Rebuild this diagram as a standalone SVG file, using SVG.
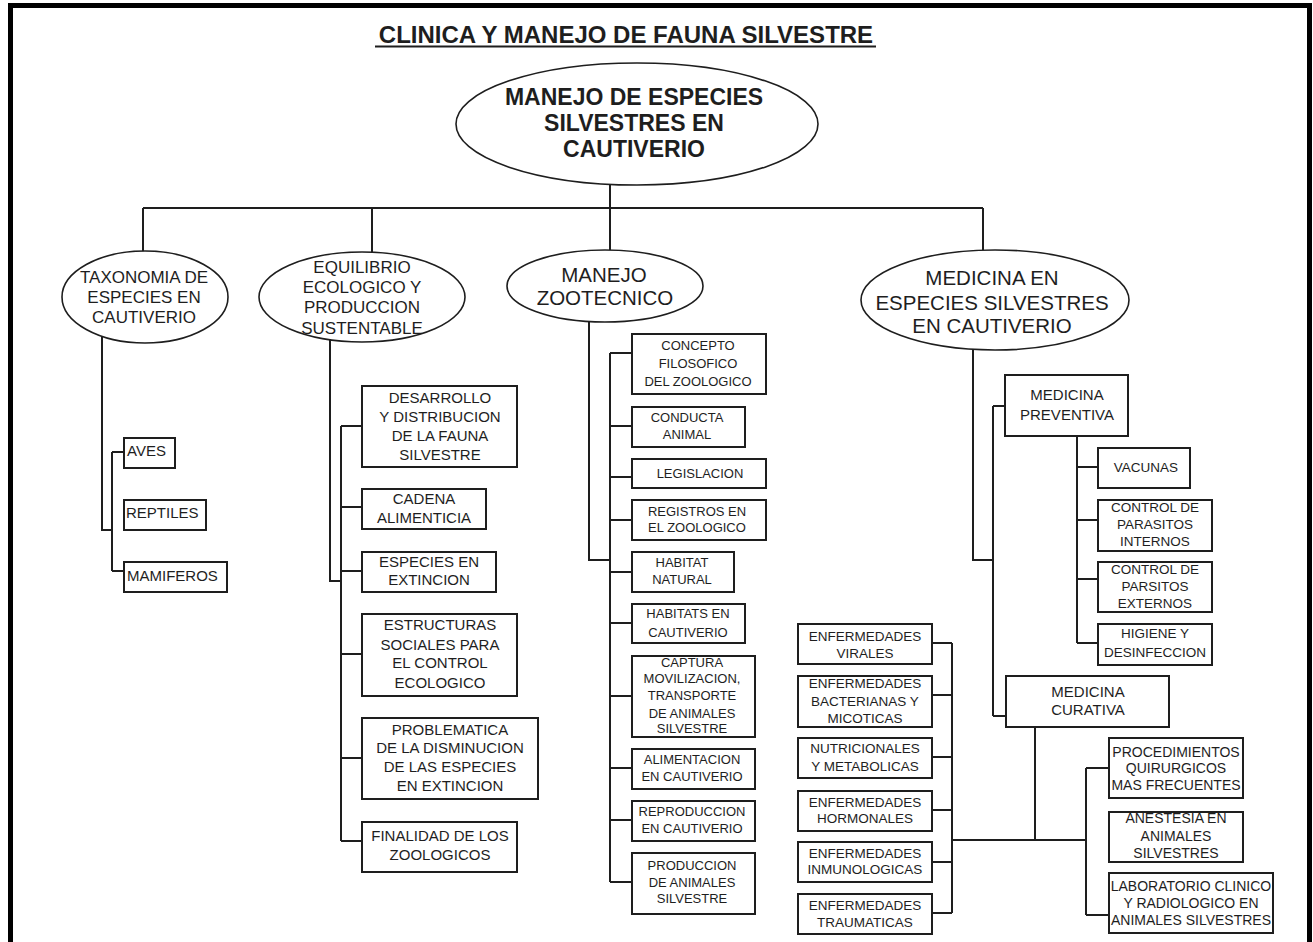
<svg xmlns="http://www.w3.org/2000/svg" width="1313" height="942" viewBox="0 0 1313 942">
<style>
text{font-family:"Liberation Sans",Arial,Helvetica,sans-serif;fill:#1e1e1e;text-anchor:middle}
.title{font-size:24px;font-weight:bold}
.root{font-size:23px;font-weight:bold}
.l1a{font-size:17px}
.l1b{font-size:20.5px}
.t15{font-size:15px}
.t14{font-size:14px}
.t135{font-size:13.5px}
.t13{font-size:13px}
.start{text-anchor:start}
.box{fill:#fff;stroke:#1e1e1e;stroke-width:2}
.ell{fill:#fff;stroke:#1e1e1e;stroke-width:1.6}
.conn path{fill:none;stroke:#1e1e1e;stroke-width:2}
</style>
<rect x="0" y="0" width="1313" height="942" fill="#fff"/>
<rect x="10.5" y="5.5" width="1299" height="1000" fill="none" stroke="#000" stroke-width="5"/>
<g id="title">
<text class="title" x="626" y="43">CLINICA Y MANEJO DE FAUNA SILVESTRE</text>
<line x1="375" y1="46.5" x2="876" y2="46.5" stroke="#1e1e1e" stroke-width="1.8"/>
</g>
<g class="conn" id="connectors">
<path d="M610,184 V250 M143,208 H983 M143,208 V252 M372,208 V252 M983,208 V250"/>
<path d="M102,336 V530 H112 M112,452 V571 M112,452 H124 M112,571 H124"/>
<path d="M330,340 V581 H341 M341,426 V841 M341,426 H362 M341,507 H362 M341,571 H362 M341,654 H362 M341,758 H362 M341,841 H362"/>
<path d="M589,322 V560 H610 M610,353 V882 M610,353 H632 M610,426 H632 M610,477 H632 M610,520 H632 M610,572 H632 M610,623 H632 M610,696 H632 M610,768 H632 M610,820 H632 M610,882 H632"/>
<path d="M973,349 V560 H993 M993,406 V716 M993,406 H1005 M993,716 H1006"/>
<path d="M1077,436 V643 M1077,467 H1098 M1077,520 H1098 M1077,579 H1098 M1077,643 H1098"/>
<path d="M1035,727 V840 M952,840 H1086 M952,643 V913 M932,643 H952 M932,695 H952 M932,757 H952 M932,810 H952 M932,862 H952 M932,913 H952 M1086,768 V915 M1086,768 H1109 M1086,915 H1109"/>
</g>
<g id="root">
<ellipse class="ell" cx="637" cy="124" rx="181" ry="61"/>
<text class="root" x="634" y="105">MANEJO DE ESPECIES</text>
<text class="root" x="634" y="131">SILVESTRES EN</text>
<text class="root" x="634" y="157">CAUTIVERIO</text>
</g>
<g id="taxonomia">
<ellipse class="ell" cx="145" cy="297" rx="83" ry="46"/>
<text class="l1a" x="144" y="283">TAXONOMIA DE</text>
<text class="l1a" x="144" y="303">ESPECIES EN</text>
<text class="l1a" x="144" y="323">CAUTIVERIO</text>
</g>
<g id="equilibrio">
<ellipse class="ell" cx="362" cy="297" rx="103" ry="45"/>
<text class="l1a" x="362" y="273">EQUILIBRIO</text>
<text class="l1a" x="362" y="293">ECOLOGICO Y</text>
<text class="l1a" x="362" y="313">PRODUCCION</text>
<text class="l1a" x="362" y="334">SUSTENTABLE</text>
</g>
<g id="zootecnico">
<ellipse class="ell" cx="605" cy="286" rx="98" ry="36"/>
<text class="l1b" x="604" y="282">MANEJO</text>
<text class="l1b" x="605" y="305">ZOOTECNICO</text>
</g>
<g id="medicina">
<ellipse class="ell" cx="995" cy="300" rx="134" ry="50"/>
<text class="l1b" x="992" y="285">MEDICINA EN</text>
<text class="l1b" x="992" y="310">ESPECIES SILVESTRES</text>
<text class="l1b" x="992" y="333">EN CAUTIVERIO</text>
</g>
<g id="aves"><rect class="box" x="124" y="438" width="51" height="30"/><text class="t15 start" x="127" y="456">AVES</text></g>
<g id="reptiles"><rect class="box" x="124" y="500" width="82" height="30"/><text class="t15 start" x="126" y="518">REPTILES</text></g>
<g id="mamiferos"><rect class="box" x="124" y="562" width="103" height="30"/><text class="t15 start" x="127" y="581">MAMIFEROS</text></g>
<g id="desarrollo"><rect class="box" x="362" y="386" width="155" height="81"/>
<text class="t15" x="440" y="403">DESARROLLO</text><text class="t15" x="440" y="422">Y DISTRIBUCION</text><text class="t15" x="440" y="441">DE LA FAUNA</text><text class="t15" x="440" y="460">SILVESTRE</text></g>
<g id="cadena"><rect class="box" x="362" y="489" width="124" height="40"/>
<text class="t15" x="424" y="504">CADENA</text><text class="t15" x="424" y="523">ALIMENTICIA</text></g>
<g id="especies-extincion"><rect class="box" x="362" y="552" width="134" height="40"/>
<text class="t15" x="429" y="567">ESPECIES EN</text><text class="t15" x="429" y="585">EXTINCION</text></g>
<g id="estructuras"><rect class="box" x="362" y="614" width="155" height="82"/>
<text class="t15" x="440" y="630">ESTRUCTURAS</text><text class="t15" x="440" y="650">SOCIALES PARA</text><text class="t15" x="440" y="668">EL CONTROL</text><text class="t15" x="440" y="688">ECOLOGICO</text></g>
<g id="problematica"><rect class="box" x="362" y="718" width="176" height="81"/>
<text class="t15" x="450" y="735">PROBLEMATICA</text><text class="t15" x="450" y="753">DE LA DISMINUCION</text><text class="t15" x="450" y="772">DE LAS ESPECIES</text><text class="t15" x="450" y="791">EN EXTINCION</text></g>
<g id="finalidad"><rect class="box" x="362" y="822" width="155" height="50"/>
<text class="t15" x="440" y="841">FINALIDAD DE LOS</text><text class="t15" x="440" y="860">ZOOLOGICOS</text></g>
<g id="concepto"><rect class="box" x="632" y="334" width="134" height="60"/>
<text class="t13" x="698" y="350">CONCEPTO</text><text class="t13" x="698" y="368">FILOSOFICO</text><text class="t13" x="698" y="386">DEL ZOOLOGICO</text></g>
<g id="conducta"><rect class="box" x="632" y="407" width="113" height="40"/>
<text class="t13" x="687" y="422">CONDUCTA</text><text class="t13" x="687" y="439">ANIMAL</text></g>
<g id="legislacion"><rect class="box" x="632" y="459" width="134" height="29"/>
<text class="t13" x="700" y="478">LEGISLACION</text></g>
<g id="registros"><rect class="box" x="632" y="500" width="134" height="40"/>
<text class="t13" x="697" y="516">REGISTROS EN</text><text class="t13" x="697" y="532">EL ZOOLOGICO</text></g>
<g id="habitat-natural"><rect class="box" x="632" y="552" width="102" height="40"/>
<text class="t13" x="682" y="567">HABITAT</text><text class="t13" x="682" y="584">NATURAL</text></g>
<g id="habitats-cautiverio"><rect class="box" x="632" y="604" width="113" height="39"/>
<text class="t13" x="688" y="618">HABITATS EN</text><text class="t13" x="688" y="637">CAUTIVERIO</text></g>
<g id="captura"><rect class="box" x="632" y="656" width="123" height="81"/>
<text class="t13" x="692" y="667">CAPTURA</text><text class="t13" x="692" y="683">MOVILIZACION,</text><text class="t13" x="692" y="700">TRANSPORTE</text><text class="t13" x="692" y="718">DE ANIMALES</text><text class="t13" x="692" y="733">SILVESTRE</text></g>
<g id="alimentacion"><rect class="box" x="632" y="749" width="123" height="40"/>
<text class="t13" x="692" y="764">ALIMENTACION</text><text class="t13" x="692" y="781">EN CAUTIVERIO</text></g>
<g id="reproduccion"><rect class="box" x="632" y="801" width="123" height="40"/>
<text class="t13" x="692" y="816">REPRODUCCION</text><text class="t13" x="692" y="833">EN CAUTIVERIO</text></g>
<g id="produccion"><rect class="box" x="632" y="853" width="123" height="61"/>
<text class="t13" x="692" y="870">PRODUCCION</text><text class="t13" x="692" y="887">DE ANIMALES</text><text class="t13" x="692" y="903">SILVESTRE</text></g>
<g id="med-preventiva"><rect class="box" x="1005" y="375" width="123" height="61"/>
<text class="t15" x="1067" y="400">MEDICINA</text><text class="t15" x="1067" y="420">PREVENTIVA</text></g>
<g id="vacunas"><rect class="box" x="1098" y="448" width="92" height="40"/>
<text class="t135" x="1146" y="472">VACUNAS</text></g>
<g id="parasitos-internos"><rect class="box" x="1098" y="500" width="114" height="51"/>
<text class="t135" x="1155" y="512">CONTROL DE</text><text class="t135" x="1155" y="529">PARASITOS</text><text class="t135" x="1155" y="546">INTERNOS</text></g>
<g id="parasitos-externos"><rect class="box" x="1098" y="562" width="114" height="50"/>
<text class="t135" x="1155" y="574">CONTROL DE</text><text class="t135" x="1155" y="591">PARSITOS</text><text class="t135" x="1155" y="608">EXTERNOS</text></g>
<g id="higiene"><rect class="box" x="1098" y="624" width="114" height="41"/>
<text class="t135" x="1155" y="638">HIGIENE Y</text><text class="t135" x="1155" y="657">DESINFECCION</text></g>
<g id="med-curativa"><rect class="box" x="1006" y="676" width="163" height="51"/>
<text class="t15" x="1088" y="697">MEDICINA</text><text class="t15" x="1088" y="715">CURATIVA</text></g>
<g id="virales"><rect class="box" x="798" y="624" width="134" height="40"/>
<text class="t135" x="865" y="641">ENFERMEDADES</text><text class="t135" x="865" y="658">VIRALES</text></g>
<g id="bacterianas"><rect class="box" x="798" y="676" width="134" height="51"/>
<text class="t135" x="865" y="688">ENFERMEDADES</text><text class="t135" x="865" y="706">BACTERIANAS Y</text><text class="t135" x="865" y="723">MICOTICAS</text></g>
<g id="nutricionales"><rect class="box" x="798" y="738" width="134" height="40"/>
<text class="t135" x="865" y="753">NUTRICIONALES</text><text class="t135" x="865" y="771">Y METABOLICAS</text></g>
<g id="hormonales"><rect class="box" x="798" y="791" width="134" height="40"/>
<text class="t135" x="865" y="807">ENFERMEDADES</text><text class="t135" x="865" y="823">HORMONALES</text></g>
<g id="inmunologicas"><rect class="box" x="798" y="842" width="134" height="40"/>
<text class="t135" x="865" y="858">ENFERMEDADES</text><text class="t135" x="865" y="874">INMUNOLOGICAS</text></g>
<g id="traumaticas"><rect class="box" x="798" y="894" width="134" height="40"/>
<text class="t135" x="865" y="910">ENFERMEDADES</text><text class="t135" x="865" y="927">TRAUMATICAS</text></g>
<g id="procedimientos"><rect class="box" x="1109" y="738" width="134" height="60"/>
<text class="t14" x="1176" y="757">PROCEDIMIENTOS</text><text class="t14" x="1176" y="773">QUIRURGICOS</text><text class="t14" x="1176" y="790">MAS FRECUENTES</text></g>
<g id="anestesia"><rect class="box" x="1109" y="812" width="134" height="50"/>
<text class="t14" x="1176" y="823">ANESTESIA  EN</text><text class="t14" x="1176" y="841">ANIMALES</text><text class="t14" x="1176" y="858">SILVESTRES</text></g>
<g id="laboratorio"><rect class="box" x="1109" y="873" width="164" height="60"/>
<text class="t14" x="1191" y="891">LABORATORIO CLINICO</text><text class="t14" x="1191" y="908">Y RADIOLOGICO EN</text><text class="t14" x="1191" y="925">ANIMALES SILVESTRES</text></g>
</svg>
